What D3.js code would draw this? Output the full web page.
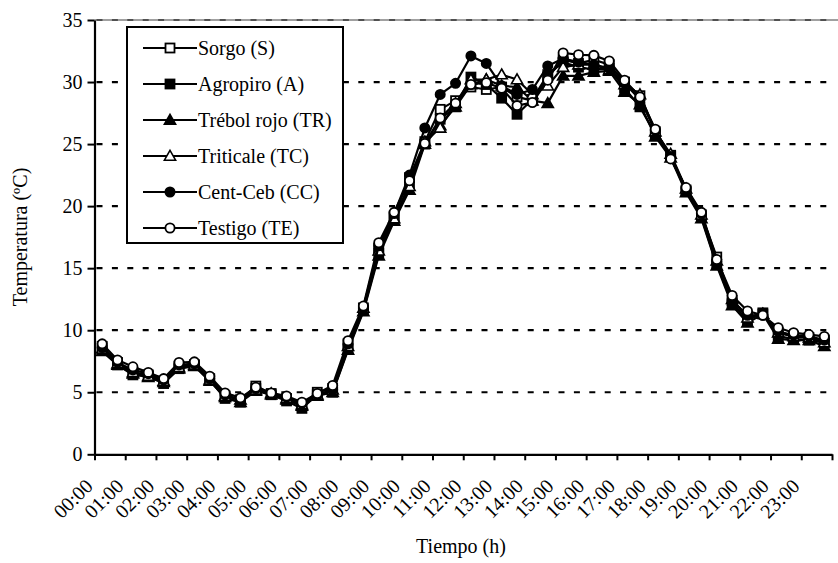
<!DOCTYPE html>
<html><head><meta charset="utf-8">
<script src="https://cdn.jsdelivr.net/npm/d3@7"></script>
<style>
body{margin:0;background:#fff;}
</style></head>
<body><svg id="c" width="838" height="563"></svg>
<script>
// 48 half-hour categories; labels on the hour
const hourLabels = ["00:00","01:00","02:00","03:00","04:00","05:00","06:00","07:00","08:00","09:00","10:00","11:00",
  "12:00","13:00","14:00","15:00","16:00","17:00","18:00","19:00","20:00","21:00","22:00","23:00"];
const yTicks = [0,5,10,15,20,25,30,35];

const sorgo = [8.7,7.4,6.6,6.4,5.9,7.1,7.2,6.1,4.7,4.4,5.5,4.9,4.5,4.0,5.0,5.3,8.9,11.8,16.6,19.2,22.3,25.2,27.8,28.5,
  29.6,29.4,29.6,28.8,28.5,30.4,31.8,31.5,31.8,31.4,30.0,28.9,26.0,24.1,21.3,19.3,15.9,12.4,11.1,11.3,9.8,9.5,9.4,9.2];
const agropiro = [8.4,7.2,6.4,6.3,5.7,6.9,7.2,6.0,4.5,4.2,5.3,4.8,4.3,3.7,4.8,5.0,8.5,11.6,16.2,18.9,21.8,25.0,27.0,28.0,
  30.4,29.8,28.7,27.4,28.6,30.6,31.6,31.2,31.0,31.1,29.5,28.0,25.8,24.0,21.2,19.1,15.3,12.2,10.8,11.4,9.5,9.3,9.2,9.0];
const trebol = [8.3,7.2,6.5,6.2,5.8,6.9,7.1,5.9,4.6,4.2,5.1,4.8,4.4,3.9,4.7,5.0,8.4,11.5,16.0,18.8,21.3,25.0,26.5,28.0,
  29.8,30.2,29.7,29.6,28.5,28.3,30.5,30.5,30.8,30.9,29.2,28.2,25.6,23.9,21.1,19.0,15.2,12.0,10.6,11.3,9.3,9.2,9.2,8.7];
const triticale = [8.5,7.3,6.6,6.3,5.9,7.0,7.2,6.0,4.7,4.4,5.2,4.9,4.5,4.0,4.8,5.2,8.7,11.8,16.4,19.0,21.6,25.2,26.3,28.3,
  30.2,30.2,30.6,30.2,29.0,29.7,31.2,31.4,31.4,31.0,29.8,29.0,26.0,24.2,21.4,19.3,15.6,12.5,11.0,11.3,9.8,9.5,9.4,9.0];
const centceb = [8.6,7.4,6.8,6.5,6.0,7.2,7.3,6.1,4.8,4.4,5.3,4.9,4.6,4.1,4.8,5.2,8.9,11.8,16.8,19.4,22.5,26.3,29.0,29.9,
  32.1,31.5,29.7,29.0,29.4,31.3,31.9,31.6,31.4,31.1,29.9,28.6,26.1,24.0,21.4,19.4,15.5,12.4,11.2,11.2,9.9,9.6,9.5,9.2];
const testigo = [8.9,7.6,7.05,6.6,6.1,7.4,7.45,6.3,4.95,4.55,5.4,4.95,4.7,4.2,4.9,5.55,9.15,11.95,17.05,19.5,22.05,25.05,27.1,28.3,
  29.8,29.95,29.5,28.1,28.35,30.15,32.35,32.2,32.15,31.7,30.15,28.8,26.2,23.8,21.5,19.5,15.7,12.8,11.55,11.2,10.2,9.8,9.65,9.5];

const seriesNames = ["Sorgo (S)","Agropiro (A)","Trébol rojo (TR)","Triticale (TC)","Cent-Ceb (CC)","Testigo (TE)"];
const seriesData = [sorgo, agropiro, trebol, triticale, centceb, testigo];
const markerTypes = ["square","square","triangle","triangle","circle","circle"];
const markerFills = ["#fff","#000","#000","#fff","#000","#fff"];

const FONT = "Liberation Serif";
const FS = "20px";
const svg = d3.select("#c");
const L = 94.5, R = 832, T = 20, B = 454.3;
const x = d3.scaleLinear().domain([0, 48]).range([L, R]);
const y = d3.scaleLinear().domain([0, 35]).range([B, T]);

// top border (grey)
svg.append("line").attr("x1", L).attr("x2", 838).attr("y1", T).attr("y2", T)
  .attr("stroke", "#a0a0a0").attr("stroke-width", 2);

// gridlines
svg.append("g").selectAll("line").data(yTicks.filter(d => d > 0)).join("line")
  .attr("x1", L).attr("x2", R).attr("y1", d => y(d)).attr("y2", d => y(d))
  .attr("stroke", "#000").attr("stroke-width", d => d === 35 ? 1.2 : 2.2)
  .attr("stroke-dasharray", "6,9.4").attr("stroke-dashoffset", -2);

// axes
const yAxis = svg.append("g").attr("transform", `translate(${L},0)`)
  .call(d3.axisLeft(y).tickValues(yTicks).tickSize(7).tickSizeOuter(0).tickPadding(5));
const xAxis = svg.append("g").attr("transform", `translate(0,${B})`)
  .call(d3.axisBottom(x).tickValues(d3.range(0, 49, 2)).tickSize(6).tickSizeOuter(0)
    .tickFormat(d => d / 2 < 24 ? hourLabels[d / 2] : ""));
[yAxis, xAxis].forEach(a => {
  a.attr("font-family", FONT).attr("font-size", 20);
  a.select(".domain").attr("stroke", "#000").attr("stroke-width", 2.2);
  a.selectAll(".tick line").attr("stroke", "#000").attr("stroke-width", 2);
  a.selectAll("text").style("font-family", FONT).style("font-size", FS).attr("fill", "#000");
});
xAxis.selectAll(".tick text")
  .attr("text-anchor", "end").attr("dy", null).attr("y", 0)
  .attr("transform", "translate(-1,33) rotate(-45)");

// axis titles
svg.append("text").attr("x", 461).attr("y", 553).attr("text-anchor", "middle")
  .style("font-family", FONT).style("font-size", FS).text("Tiempo (h)");
svg.append("text").attr("transform", "translate(27,237) rotate(-90)").attr("text-anchor", "middle")
  .style("font-family", FONT).style("font-size", FS).text("Temperatura (ºC)");

function marker(g, type, fill, cx, cy) {
  if (type === "square") {
    g.append("rect").attr("x", cx - 4.5).attr("y", cy - 4.5).attr("width", 9).attr("height", 9)
      .attr("fill", fill).attr("stroke", "#000").attr("stroke-width", 1.8);
  } else if (type === "triangle") {
    const s = 5.6;
    g.append("path").attr("d", `M${cx},${cy - s}L${cx + s},${cy + s * 0.75}L${cx - s},${cy + s * 0.75}Z`)
      .attr("fill", fill).attr("stroke", "#000").attr("stroke-width", 1.6);
  } else {
    g.append("circle").attr("cx", cx).attr("cy", cy).attr("r", 4.6)
      .attr("fill", fill).attr("stroke", "#000").attr("stroke-width", 1.8);
  }
}

const line = d3.line().x((d, i) => x(i + 0.5)).y(d => y(d));
seriesData.forEach((data, k) => {
  const g = svg.append("g");
  g.append("path").datum(data).attr("d", line).attr("fill", "none")
    .attr("stroke", "#000").attr("stroke-width", 2.2).attr("stroke-linejoin", "round");
  data.forEach((v, i) => marker(g, markerTypes[k], markerFills[k], x(i + 0.5), y(v)));
});

// legend
const lg = svg.append("g");
lg.append("rect").attr("x", 127).attr("y", 27).attr("width", 216).attr("height", 216)
  .attr("fill", "#fff").attr("stroke", "#000").attr("stroke-width", 2);
seriesNames.forEach((n, k) => {
  const cy = 48 + k * 36;
  lg.append("line").attr("x1", 143).attr("x2", 197).attr("y1", cy).attr("y2", cy)
    .attr("stroke", "#000").attr("stroke-width", 2);
  marker(lg, markerTypes[k], markerFills[k], 170, cy);
  lg.append("text").attr("x", 198).attr("y", cy + 7).style("font-family", FONT).style("font-size", FS).text(n);
});
</script></body></html>
